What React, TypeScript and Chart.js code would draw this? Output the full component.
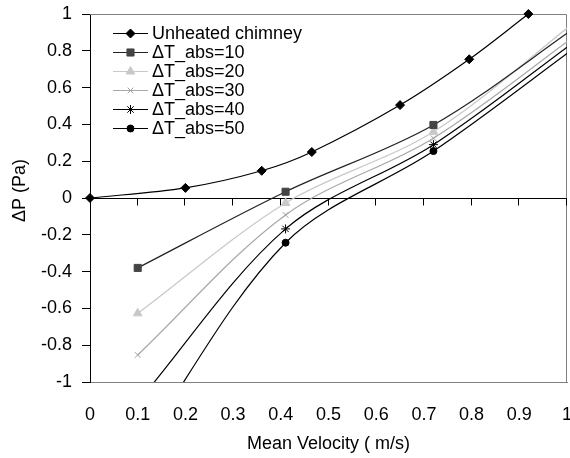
import React, { useEffect, useRef } from 'react';
import { Chart, registerables } from 'chart.js';
import { drawPoint } from 'chart.js/helpers';

Chart.register(...registerables);

const seriesLabels = [
  'Unheated chimney',
  'ΔT_abs=10',
  'ΔT_abs=20',
  'ΔT_abs=30',
  'ΔT_abs=40',
  'ΔT_abs=50',
];

const unheatedX = [0, 0.2, 0.36, 0.465, 0.65, 0.795, 0.919];
const unheatedY = [0, 0.055, 0.148, 0.25, 0.505, 0.754, 1.0];

const heatedX = [0.1, 0.41, 0.72, 1.03];
const dT10 = [-0.38, 0.034, 0.397, 0.95];
const dT20 = [-0.627, -0.027, 0.36, 0.985];
const dT30 = [-0.853, -0.092, 0.325, 0.906];
const dT40 = [-1.11, -0.168, 0.29, 0.877];
const dT50 = [-1.38, -0.243, 0.255, 0.843];

const FONT_FAMILY = '"Liberation Sans", Arial, sans-serif';
const FONT_SIZE = 18;

const toPts = (xs: number[], ys: number[]) => xs.map((x, i) => ({ x, y: ys[i] }));
const fmt = (v: any) => String(Math.round(Number(v) * 10) / 10);

const zeroAxisPlugin = {
  id: 'zeroAxis',
  beforeDatasetsDraw(chart: any) {
    const { ctx, chartArea: a, scales } = chart;
    const x = scales.x;
    const y = scales.y;
    ctx.save();
    ctx.lineWidth = 1;
    ctx.strokeStyle = '#808080';
    ctx.beginPath();
    ctx.moveTo(a.left, a.top + 0.5);
    ctx.lineTo(a.right - 0.5, a.top + 0.5);
    ctx.lineTo(a.right - 0.5, a.bottom);
    ctx.stroke();
    const y0 = Math.round(y.getPixelForValue(0)) + 0.5;
    ctx.strokeStyle = '#000';
    ctx.beginPath();
    ctx.moveTo(a.left, y0);
    ctx.lineTo(a.right, y0);
    x.ticks.forEach((t: any) => {
      if (t.value === 0) return;
      const px = Math.round(x.getPixelForValue(t.value)) - 0.5;
      ctx.moveTo(px, y0);
      ctx.lineTo(px, y0 + 7);
    });
    ctx.stroke();
    ctx.restore();
  },
};

const legendPlugin = {
  id: 'innerLegend',
  afterDraw(chart: any) {
    const { ctx, chartArea: a } = chart;
    ctx.save();
    ctx.font = `${FONT_SIZE}px ${FONT_FAMILY}`;
    ctx.textBaseline = 'middle';
    ctx.textAlign = 'left';
    chart.data.datasets.forEach((ds: any, i: number) => {
      const cy = Math.round(a.top + 18.5 + i * 19.1) + 0.5;
      const x1 = a.left + 23;
      const x2 = a.left + 58;
      ctx.strokeStyle = ds.borderColor;
      ctx.lineWidth = ds.borderWidth;
      ctx.beginPath();
      ctx.moveTo(x1, cy);
      ctx.lineTo(x2, cy);
      ctx.stroke();
      ctx.fillStyle = ds.pointBackgroundColor;
      ctx.strokeStyle = ds.pointBorderColor;
      ctx.lineWidth = 1;
      drawPoint(ctx, { pointStyle: ds.pointStyle, radius: ds.pointRadius, rotation: 0, borderWidth: 1 } as any, (x1 + x2) / 2, cy);
      ctx.fillStyle = '#000';
      ctx.fillText(ds.label, a.left + 62, cy + 1);
    });
    ctx.restore();
  },
};

export default function App() {
  const ref = useRef<HTMLCanvasElement | null>(null);

  useEffect(() => {
    if (!ref.current) return;
    Chart.defaults.font.family = FONT_FAMILY;
    Chart.defaults.font.size = FONT_SIZE;
    Chart.defaults.color = '#000';

    const mk = (label: string, data: any[], color: string, markColor: string, style: string, r: number, extra: any = {}) => ({
      label,
      data,
      borderColor: color,
      borderWidth: 1.2,
      backgroundColor: markColor,
      pointBackgroundColor: markColor,
      pointBorderColor: markColor,
      pointStyle: style,
      pointRadius: r,
      pointBorderWidth: 1,
      tension: 0.33,
      fill: false,
      ...extra,
    });

    const chart = new Chart(ref.current, {
      type: 'line',
      data: {
        datasets: [
          mk(seriesLabels[0], toPts(unheatedX, unheatedY), '#000', '#000', 'rectRot', 4.5, { clip: false }),
          mk(seriesLabels[1], toPts(heatedX, dT10), '#222', '#444', 'rect', 5),
          mk(seriesLabels[2], toPts(heatedX, dT20), '#c8c8c8', '#c8c8c8', 'triangle', 5),
          mk(seriesLabels[3], toPts(heatedX, dT30), '#a8a8a8', '#a0a0a0', 'crossRot', 4),
          mk(seriesLabels[4], toPts(heatedX, dT40), '#000', '#000', 'star', 4.5),
          mk(seriesLabels[5], toPts(heatedX, dT50), '#000', '#000', 'circle', 3.5),
        ] as any,
      },
      options: {
        animation: false,
        responsive: false,
        maintainAspectRatio: false,
        layout: { padding: { left: 0, top: 14, right: 18, bottom: 0 } },
        elements: { line: { capBezierPoints: false } },
        plugins: { legend: { display: false }, tooltip: { enabled: false } },
        scales: {
          x: {
            type: 'linear',
            position: 'bottom',
            min: 0,
            max: 1,
            ticks: { stepSize: 0.1, padding: 14, color: '#000', font: { size: FONT_SIZE }, callback: fmt },
            grid: { display: false },
            border: { display: true, color: '#808080', width: 1 },
            title: {
              display: true,
              text: 'Mean Velocity ( m/s)',
              color: '#000',
              font: { size: FONT_SIZE },
              padding: { top: 0, bottom: 3 },
            },
            afterFit: (s: any) => { s.height = 76; s.paddingLeft = 0; s.paddingRight = 0; },
          },
          y: {
            type: 'linear',
            min: -1,
            max: 1,
            ticks: { stepSize: 0.2, padding: 10, color: '#000', font: { size: FONT_SIZE }, callback: fmt },
            grid: { display: true, drawOnChartArea: false, drawTicks: true, tickLength: 8, color: '#000' },
            border: { display: true, color: '#000', width: 1 },
            title: {
              display: true,
              text: '   ΔP (Pa)',
              color: '#000',
              font: { size: FONT_SIZE },
              padding: { top: 9, bottom: 0 },
            },
            afterFit: (s: any) => { s.width = 90; s.paddingTop = 0; s.paddingBottom = 0; },
          },
        },
      } as any,
      plugins: [zeroAxisPlugin, legendPlugin],
    });
    return () => chart.destroy();
  }, []);

  return (
    <div style={{ position: 'fixed', left: 0, top: 0, width: 570, height: 458, overflow: 'hidden', background: '#fff' }}>
      <canvas ref={ref} width={585} height={458} style={{ width: 585, height: 458, display: 'block' }} />
    </div>
  );
}
